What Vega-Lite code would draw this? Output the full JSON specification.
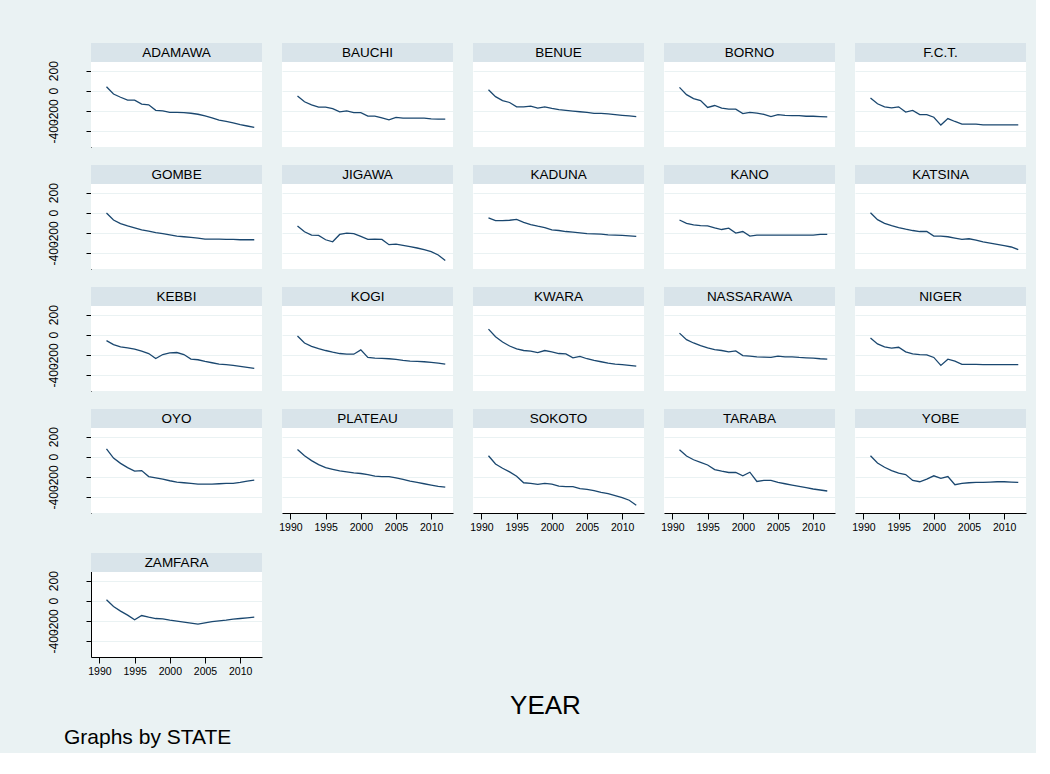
{
  "$schema": "https://vega.github.io/schema/vega-lite/v6.json",
  "background": "#EAF2F3",
  "padding": {"left": 46, "top": 43, "right": 10, "bottom": 5},
  "config": {
    "font": "Liberation Sans",
    "view": {"stroke": null, "fill": "white"},
    "axis": {"domainColor": "black", "tickColor": "black", "labelColor": "black", "labelFont": "Liberation Sans"},
    "axisX": {"grid": false, "tickSize": 6, "labelPadding": 3, "labelFontSize": 10.5, "labelFlush": false},
    "axisY": {"grid": true, "gridColor": "#EAF2F3", "gridWidth": 1, "tickSize": 5, "labelPadding": 26, "labelAngle": 270, "labelAlign": "center", "labelBaseline": "bottom", "labelOverlap": false, "labelFontSize": 12, "labelExpr": "'' + datum.value"}
  },
  "title": {"text": "Graphs by STATE", "orient": "bottom", "anchor": "start", "frame": "bounds", "fontSize": 21, "fontWeight": "normal", "color": "black", "offset": 8, "dx": 17},
  "data": {"values": [
    {"STATE":"ADAMAWA","YEAR":1991,"VAL":39},{"STATE":"ADAMAWA","YEAR":1992,"VAL":-33},{"STATE":"ADAMAWA","YEAR":1993,"VAL":-65},{"STATE":"ADAMAWA","YEAR":1994,"VAL":-94},{"STATE":"ADAMAWA","YEAR":1995,"VAL":-94},{"STATE":"ADAMAWA","YEAR":1996,"VAL":-133},{"STATE":"ADAMAWA","YEAR":1997,"VAL":-140},{"STATE":"ADAMAWA","YEAR":1998,"VAL":-195},{"STATE":"ADAMAWA","YEAR":1999,"VAL":-201},{"STATE":"ADAMAWA","YEAR":2000,"VAL":-215},{"STATE":"ADAMAWA","YEAR":2001,"VAL":-215},{"STATE":"ADAMAWA","YEAR":2002,"VAL":-218},{"STATE":"ADAMAWA","YEAR":2003,"VAL":-224},{"STATE":"ADAMAWA","YEAR":2004,"VAL":-234},{"STATE":"ADAMAWA","YEAR":2005,"VAL":-250},{"STATE":"ADAMAWA","YEAR":2006,"VAL":-270},{"STATE":"ADAMAWA","YEAR":2007,"VAL":-293},{"STATE":"ADAMAWA","YEAR":2008,"VAL":-306},{"STATE":"ADAMAWA","YEAR":2009,"VAL":-319},{"STATE":"ADAMAWA","YEAR":2010,"VAL":-338},{"STATE":"ADAMAWA","YEAR":2011,"VAL":-351},{"STATE":"ADAMAWA","YEAR":2012,"VAL":-364},
    {"STATE":"BAUCHI","YEAR":1991,"VAL":-52},{"STATE":"BAUCHI","YEAR":1992,"VAL":-110},{"STATE":"BAUCHI","YEAR":1993,"VAL":-140},{"STATE":"BAUCHI","YEAR":1994,"VAL":-163},{"STATE":"BAUCHI","YEAR":1995,"VAL":-163},{"STATE":"BAUCHI","YEAR":1996,"VAL":-179},{"STATE":"BAUCHI","YEAR":1997,"VAL":-211},{"STATE":"BAUCHI","YEAR":1998,"VAL":-201},{"STATE":"BAUCHI","YEAR":1999,"VAL":-218},{"STATE":"BAUCHI","YEAR":2000,"VAL":-218},{"STATE":"BAUCHI","YEAR":2001,"VAL":-253},{"STATE":"BAUCHI","YEAR":2002,"VAL":-253},{"STATE":"BAUCHI","YEAR":2003,"VAL":-270},{"STATE":"BAUCHI","YEAR":2004,"VAL":-289},{"STATE":"BAUCHI","YEAR":2005,"VAL":-266},{"STATE":"BAUCHI","YEAR":2006,"VAL":-273},{"STATE":"BAUCHI","YEAR":2007,"VAL":-273},{"STATE":"BAUCHI","YEAR":2008,"VAL":-273},{"STATE":"BAUCHI","YEAR":2009,"VAL":-273},{"STATE":"BAUCHI","YEAR":2010,"VAL":-280},{"STATE":"BAUCHI","YEAR":2011,"VAL":-283},{"STATE":"BAUCHI","YEAR":2012,"VAL":-283},
    {"STATE":"BENUE","YEAR":1991,"VAL":10},{"STATE":"BENUE","YEAR":1992,"VAL":-59},{"STATE":"BENUE","YEAR":1993,"VAL":-98},{"STATE":"BENUE","YEAR":1994,"VAL":-117},{"STATE":"BENUE","YEAR":1995,"VAL":-160},{"STATE":"BENUE","YEAR":1996,"VAL":-160},{"STATE":"BENUE","YEAR":1997,"VAL":-153},{"STATE":"BENUE","YEAR":1998,"VAL":-173},{"STATE":"BENUE","YEAR":1999,"VAL":-160},{"STATE":"BENUE","YEAR":2000,"VAL":-176},{"STATE":"BENUE","YEAR":2001,"VAL":-189},{"STATE":"BENUE","YEAR":2002,"VAL":-196},{"STATE":"BENUE","YEAR":2003,"VAL":-202},{"STATE":"BENUE","YEAR":2004,"VAL":-209},{"STATE":"BENUE","YEAR":2005,"VAL":-215},{"STATE":"BENUE","YEAR":2006,"VAL":-225},{"STATE":"BENUE","YEAR":2007,"VAL":-225},{"STATE":"BENUE","YEAR":2008,"VAL":-231},{"STATE":"BENUE","YEAR":2009,"VAL":-238},{"STATE":"BENUE","YEAR":2010,"VAL":-245},{"STATE":"BENUE","YEAR":2011,"VAL":-251},{"STATE":"BENUE","YEAR":2012,"VAL":-258},
    {"STATE":"BORNO","YEAR":1991,"VAL":33},{"STATE":"BORNO","YEAR":1992,"VAL":-39},{"STATE":"BORNO","YEAR":1993,"VAL":-78},{"STATE":"BORNO","YEAR":1994,"VAL":-98},{"STATE":"BORNO","YEAR":1995,"VAL":-166},{"STATE":"BORNO","YEAR":1996,"VAL":-147},{"STATE":"BORNO","YEAR":1997,"VAL":-173},{"STATE":"BORNO","YEAR":1998,"VAL":-183},{"STATE":"BORNO","YEAR":1999,"VAL":-183},{"STATE":"BORNO","YEAR":2000,"VAL":-228},{"STATE":"BORNO","YEAR":2001,"VAL":-215},{"STATE":"BORNO","YEAR":2002,"VAL":-222},{"STATE":"BORNO","YEAR":2003,"VAL":-235},{"STATE":"BORNO","YEAR":2004,"VAL":-258},{"STATE":"BORNO","YEAR":2005,"VAL":-238},{"STATE":"BORNO","YEAR":2006,"VAL":-245},{"STATE":"BORNO","YEAR":2007,"VAL":-248},{"STATE":"BORNO","YEAR":2008,"VAL":-248},{"STATE":"BORNO","YEAR":2009,"VAL":-254},{"STATE":"BORNO","YEAR":2010,"VAL":-254},{"STATE":"BORNO","YEAR":2011,"VAL":-258},{"STATE":"BORNO","YEAR":2012,"VAL":-261},
    {"STATE":"F.C.T.","YEAR":1991,"VAL":-72},{"STATE":"F.C.T.","YEAR":1992,"VAL":-130},{"STATE":"F.C.T.","YEAR":1993,"VAL":-160},{"STATE":"F.C.T.","YEAR":1994,"VAL":-170},{"STATE":"F.C.T.","YEAR":1995,"VAL":-160},{"STATE":"F.C.T.","YEAR":1996,"VAL":-212},{"STATE":"F.C.T.","YEAR":1997,"VAL":-196},{"STATE":"F.C.T.","YEAR":1998,"VAL":-238},{"STATE":"F.C.T.","YEAR":1999,"VAL":-238},{"STATE":"F.C.T.","YEAR":2000,"VAL":-264},{"STATE":"F.C.T.","YEAR":2001,"VAL":-342},{"STATE":"F.C.T.","YEAR":2002,"VAL":-277},{"STATE":"F.C.T.","YEAR":2003,"VAL":-306},{"STATE":"F.C.T.","YEAR":2004,"VAL":-333},{"STATE":"F.C.T.","YEAR":2005,"VAL":-333},{"STATE":"F.C.T.","YEAR":2006,"VAL":-333},{"STATE":"F.C.T.","YEAR":2007,"VAL":-339},{"STATE":"F.C.T.","YEAR":2008,"VAL":-339},{"STATE":"F.C.T.","YEAR":2009,"VAL":-339},{"STATE":"F.C.T.","YEAR":2010,"VAL":-339},{"STATE":"F.C.T.","YEAR":2011,"VAL":-339},{"STATE":"F.C.T.","YEAR":2012,"VAL":-339},
    {"STATE":"GOMBE","YEAR":1991,"VAL":-3},{"STATE":"GOMBE","YEAR":1992,"VAL":-72},{"STATE":"GOMBE","YEAR":1993,"VAL":-108},{"STATE":"GOMBE","YEAR":1994,"VAL":-131},{"STATE":"GOMBE","YEAR":1995,"VAL":-151},{"STATE":"GOMBE","YEAR":1996,"VAL":-171},{"STATE":"GOMBE","YEAR":1997,"VAL":-184},{"STATE":"GOMBE","YEAR":1998,"VAL":-197},{"STATE":"GOMBE","YEAR":1999,"VAL":-207},{"STATE":"GOMBE","YEAR":2000,"VAL":-220},{"STATE":"GOMBE","YEAR":2001,"VAL":-233},{"STATE":"GOMBE","YEAR":2002,"VAL":-239},{"STATE":"GOMBE","YEAR":2003,"VAL":-246},{"STATE":"GOMBE","YEAR":2004,"VAL":-253},{"STATE":"GOMBE","YEAR":2005,"VAL":-262},{"STATE":"GOMBE","YEAR":2006,"VAL":-262},{"STATE":"GOMBE","YEAR":2007,"VAL":-262},{"STATE":"GOMBE","YEAR":2008,"VAL":-266},{"STATE":"GOMBE","YEAR":2009,"VAL":-266},{"STATE":"GOMBE","YEAR":2010,"VAL":-269},{"STATE":"GOMBE","YEAR":2011,"VAL":-269},{"STATE":"GOMBE","YEAR":2012,"VAL":-269},
    {"STATE":"JIGAWA","YEAR":1991,"VAL":-131},{"STATE":"JIGAWA","YEAR":1992,"VAL":-190},{"STATE":"JIGAWA","YEAR":1993,"VAL":-223},{"STATE":"JIGAWA","YEAR":1994,"VAL":-226},{"STATE":"JIGAWA","YEAR":1995,"VAL":-269},{"STATE":"JIGAWA","YEAR":1996,"VAL":-289},{"STATE":"JIGAWA","YEAR":1997,"VAL":-216},{"STATE":"JIGAWA","YEAR":1998,"VAL":-203},{"STATE":"JIGAWA","YEAR":1999,"VAL":-207},{"STATE":"JIGAWA","YEAR":2000,"VAL":-236},{"STATE":"JIGAWA","YEAR":2001,"VAL":-266},{"STATE":"JIGAWA","YEAR":2002,"VAL":-262},{"STATE":"JIGAWA","YEAR":2003,"VAL":-266},{"STATE":"JIGAWA","YEAR":2004,"VAL":-318},{"STATE":"JIGAWA","YEAR":2005,"VAL":-312},{"STATE":"JIGAWA","YEAR":2006,"VAL":-325},{"STATE":"JIGAWA","YEAR":2007,"VAL":-338},{"STATE":"JIGAWA","YEAR":2008,"VAL":-351},{"STATE":"JIGAWA","YEAR":2009,"VAL":-367},{"STATE":"JIGAWA","YEAR":2010,"VAL":-387},{"STATE":"JIGAWA","YEAR":2011,"VAL":-420},{"STATE":"JIGAWA","YEAR":2012,"VAL":-476},
    {"STATE":"KADUNA","YEAR":1991,"VAL":-52},{"STATE":"KADUNA","YEAR":1992,"VAL":-79},{"STATE":"KADUNA","YEAR":1993,"VAL":-79},{"STATE":"KADUNA","YEAR":1994,"VAL":-75},{"STATE":"KADUNA","YEAR":1995,"VAL":-66},{"STATE":"KADUNA","YEAR":1996,"VAL":-95},{"STATE":"KADUNA","YEAR":1997,"VAL":-118},{"STATE":"KADUNA","YEAR":1998,"VAL":-134},{"STATE":"KADUNA","YEAR":1999,"VAL":-148},{"STATE":"KADUNA","YEAR":2000,"VAL":-171},{"STATE":"KADUNA","YEAR":2001,"VAL":-177},{"STATE":"KADUNA","YEAR":2002,"VAL":-187},{"STATE":"KADUNA","YEAR":2003,"VAL":-194},{"STATE":"KADUNA","YEAR":2004,"VAL":-200},{"STATE":"KADUNA","YEAR":2005,"VAL":-207},{"STATE":"KADUNA","YEAR":2006,"VAL":-210},{"STATE":"KADUNA","YEAR":2007,"VAL":-213},{"STATE":"KADUNA","YEAR":2008,"VAL":-220},{"STATE":"KADUNA","YEAR":2009,"VAL":-223},{"STATE":"KADUNA","YEAR":2010,"VAL":-226},{"STATE":"KADUNA","YEAR":2011,"VAL":-230},{"STATE":"KADUNA","YEAR":2012,"VAL":-236},
    {"STATE":"KANO","YEAR":1991,"VAL":-72},{"STATE":"KANO","YEAR":1992,"VAL":-105},{"STATE":"KANO","YEAR":1993,"VAL":-121},{"STATE":"KANO","YEAR":1994,"VAL":-128},{"STATE":"KANO","YEAR":1995,"VAL":-131},{"STATE":"KANO","YEAR":1996,"VAL":-151},{"STATE":"KANO","YEAR":1997,"VAL":-167},{"STATE":"KANO","YEAR":1998,"VAL":-154},{"STATE":"KANO","YEAR":1999,"VAL":-203},{"STATE":"KANO","YEAR":2000,"VAL":-187},{"STATE":"KANO","YEAR":2001,"VAL":-233},{"STATE":"KANO","YEAR":2002,"VAL":-223},{"STATE":"KANO","YEAR":2003,"VAL":-223},{"STATE":"KANO","YEAR":2004,"VAL":-223},{"STATE":"KANO","YEAR":2005,"VAL":-223},{"STATE":"KANO","YEAR":2006,"VAL":-223},{"STATE":"KANO","YEAR":2007,"VAL":-223},{"STATE":"KANO","YEAR":2008,"VAL":-223},{"STATE":"KANO","YEAR":2009,"VAL":-223},{"STATE":"KANO","YEAR":2010,"VAL":-223},{"STATE":"KANO","YEAR":2011,"VAL":-216},{"STATE":"KANO","YEAR":2012,"VAL":-216},
    {"STATE":"KATSINA","YEAR":1991,"VAL":0},{"STATE":"KATSINA","YEAR":1992,"VAL":-69},{"STATE":"KATSINA","YEAR":1993,"VAL":-105},{"STATE":"KATSINA","YEAR":1994,"VAL":-128},{"STATE":"KATSINA","YEAR":1995,"VAL":-148},{"STATE":"KATSINA","YEAR":1996,"VAL":-164},{"STATE":"KATSINA","YEAR":1997,"VAL":-177},{"STATE":"KATSINA","YEAR":1998,"VAL":-187},{"STATE":"KATSINA","YEAR":1999,"VAL":-187},{"STATE":"KATSINA","YEAR":2000,"VAL":-233},{"STATE":"KATSINA","YEAR":2001,"VAL":-233},{"STATE":"KATSINA","YEAR":2002,"VAL":-239},{"STATE":"KATSINA","YEAR":2003,"VAL":-253},{"STATE":"KATSINA","YEAR":2004,"VAL":-266},{"STATE":"KATSINA","YEAR":2005,"VAL":-259},{"STATE":"KATSINA","YEAR":2006,"VAL":-272},{"STATE":"KATSINA","YEAR":2007,"VAL":-289},{"STATE":"KATSINA","YEAR":2008,"VAL":-302},{"STATE":"KATSINA","YEAR":2009,"VAL":-315},{"STATE":"KATSINA","YEAR":2010,"VAL":-328},{"STATE":"KATSINA","YEAR":2011,"VAL":-341},{"STATE":"KATSINA","YEAR":2012,"VAL":-367},
    {"STATE":"KEBBI","YEAR":1991,"VAL":-59},{"STATE":"KEBBI","YEAR":1992,"VAL":-98},{"STATE":"KEBBI","YEAR":1993,"VAL":-121},{"STATE":"KEBBI","YEAR":1994,"VAL":-131},{"STATE":"KEBBI","YEAR":1995,"VAL":-144},{"STATE":"KEBBI","YEAR":1996,"VAL":-164},{"STATE":"KEBBI","YEAR":1997,"VAL":-187},{"STATE":"KEBBI","YEAR":1998,"VAL":-236},{"STATE":"KEBBI","YEAR":1999,"VAL":-197},{"STATE":"KEBBI","YEAR":2000,"VAL":-180},{"STATE":"KEBBI","YEAR":2001,"VAL":-177},{"STATE":"KEBBI","YEAR":2002,"VAL":-197},{"STATE":"KEBBI","YEAR":2003,"VAL":-243},{"STATE":"KEBBI","YEAR":2004,"VAL":-249},{"STATE":"KEBBI","YEAR":2005,"VAL":-266},{"STATE":"KEBBI","YEAR":2006,"VAL":-279},{"STATE":"KEBBI","YEAR":2007,"VAL":-292},{"STATE":"KEBBI","YEAR":2008,"VAL":-298},{"STATE":"KEBBI","YEAR":2009,"VAL":-305},{"STATE":"KEBBI","YEAR":2010,"VAL":-315},{"STATE":"KEBBI","YEAR":2011,"VAL":-325},{"STATE":"KEBBI","YEAR":2012,"VAL":-335},
    {"STATE":"KOGI","YEAR":1991,"VAL":-13},{"STATE":"KOGI","YEAR":1992,"VAL":-82},{"STATE":"KOGI","YEAR":1993,"VAL":-115},{"STATE":"KOGI","YEAR":1994,"VAL":-138},{"STATE":"KOGI","YEAR":1995,"VAL":-157},{"STATE":"KOGI","YEAR":1996,"VAL":-174},{"STATE":"KOGI","YEAR":1997,"VAL":-187},{"STATE":"KOGI","YEAR":1998,"VAL":-194},{"STATE":"KOGI","YEAR":1999,"VAL":-194},{"STATE":"KOGI","YEAR":2000,"VAL":-151},{"STATE":"KOGI","YEAR":2001,"VAL":-226},{"STATE":"KOGI","YEAR":2002,"VAL":-233},{"STATE":"KOGI","YEAR":2003,"VAL":-236},{"STATE":"KOGI","YEAR":2004,"VAL":-239},{"STATE":"KOGI","YEAR":2005,"VAL":-246},{"STATE":"KOGI","YEAR":2006,"VAL":-256},{"STATE":"KOGI","YEAR":2007,"VAL":-262},{"STATE":"KOGI","YEAR":2008,"VAL":-266},{"STATE":"KOGI","YEAR":2009,"VAL":-269},{"STATE":"KOGI","YEAR":2010,"VAL":-276},{"STATE":"KOGI","YEAR":2011,"VAL":-282},{"STATE":"KOGI","YEAR":2012,"VAL":-292},
    {"STATE":"KWARA","YEAR":1991,"VAL":56},{"STATE":"KWARA","YEAR":1992,"VAL":-20},{"STATE":"KWARA","YEAR":1993,"VAL":-72},{"STATE":"KWARA","YEAR":1994,"VAL":-112},{"STATE":"KWARA","YEAR":1995,"VAL":-141},{"STATE":"KWARA","YEAR":1996,"VAL":-157},{"STATE":"KWARA","YEAR":1997,"VAL":-164},{"STATE":"KWARA","YEAR":1998,"VAL":-177},{"STATE":"KWARA","YEAR":1999,"VAL":-157},{"STATE":"KWARA","YEAR":2000,"VAL":-171},{"STATE":"KWARA","YEAR":2001,"VAL":-187},{"STATE":"KWARA","YEAR":2002,"VAL":-190},{"STATE":"KWARA","YEAR":2003,"VAL":-230},{"STATE":"KWARA","YEAR":2004,"VAL":-216},{"STATE":"KWARA","YEAR":2005,"VAL":-239},{"STATE":"KWARA","YEAR":2006,"VAL":-256},{"STATE":"KWARA","YEAR":2007,"VAL":-269},{"STATE":"KWARA","YEAR":2008,"VAL":-282},{"STATE":"KWARA","YEAR":2009,"VAL":-292},{"STATE":"KWARA","YEAR":2010,"VAL":-298},{"STATE":"KWARA","YEAR":2011,"VAL":-305},{"STATE":"KWARA","YEAR":2012,"VAL":-312},
    {"STATE":"NASSARAWA","YEAR":1991,"VAL":16},{"STATE":"NASSARAWA","YEAR":1992,"VAL":-49},{"STATE":"NASSARAWA","YEAR":1993,"VAL":-82},{"STATE":"NASSARAWA","YEAR":1994,"VAL":-108},{"STATE":"NASSARAWA","YEAR":1995,"VAL":-131},{"STATE":"NASSARAWA","YEAR":1996,"VAL":-148},{"STATE":"NASSARAWA","YEAR":1997,"VAL":-157},{"STATE":"NASSARAWA","YEAR":1998,"VAL":-171},{"STATE":"NASSARAWA","YEAR":1999,"VAL":-161},{"STATE":"NASSARAWA","YEAR":2000,"VAL":-207},{"STATE":"NASSARAWA","YEAR":2001,"VAL":-213},{"STATE":"NASSARAWA","YEAR":2002,"VAL":-220},{"STATE":"NASSARAWA","YEAR":2003,"VAL":-223},{"STATE":"NASSARAWA","YEAR":2004,"VAL":-226},{"STATE":"NASSARAWA","YEAR":2005,"VAL":-213},{"STATE":"NASSARAWA","YEAR":2006,"VAL":-220},{"STATE":"NASSARAWA","YEAR":2007,"VAL":-220},{"STATE":"NASSARAWA","YEAR":2008,"VAL":-226},{"STATE":"NASSARAWA","YEAR":2009,"VAL":-230},{"STATE":"NASSARAWA","YEAR":2010,"VAL":-233},{"STATE":"NASSARAWA","YEAR":2011,"VAL":-239},{"STATE":"NASSARAWA","YEAR":2012,"VAL":-243},
    {"STATE":"NIGER","YEAR":1991,"VAL":-33},{"STATE":"NIGER","YEAR":1992,"VAL":-92},{"STATE":"NIGER","YEAR":1993,"VAL":-121},{"STATE":"NIGER","YEAR":1994,"VAL":-134},{"STATE":"NIGER","YEAR":1995,"VAL":-125},{"STATE":"NIGER","YEAR":1996,"VAL":-171},{"STATE":"NIGER","YEAR":1997,"VAL":-190},{"STATE":"NIGER","YEAR":1998,"VAL":-197},{"STATE":"NIGER","YEAR":1999,"VAL":-200},{"STATE":"NIGER","YEAR":2000,"VAL":-226},{"STATE":"NIGER","YEAR":2001,"VAL":-305},{"STATE":"NIGER","YEAR":2002,"VAL":-243},{"STATE":"NIGER","YEAR":2003,"VAL":-262},{"STATE":"NIGER","YEAR":2004,"VAL":-295},{"STATE":"NIGER","YEAR":2005,"VAL":-295},{"STATE":"NIGER","YEAR":2006,"VAL":-295},{"STATE":"NIGER","YEAR":2007,"VAL":-298},{"STATE":"NIGER","YEAR":2008,"VAL":-298},{"STATE":"NIGER","YEAR":2009,"VAL":-298},{"STATE":"NIGER","YEAR":2010,"VAL":-298},{"STATE":"NIGER","YEAR":2011,"VAL":-298},{"STATE":"NIGER","YEAR":2012,"VAL":-298},
    {"STATE":"OYO","YEAR":1991,"VAL":79},{"STATE":"OYO","YEAR":1992,"VAL":-13},{"STATE":"OYO","YEAR":1993,"VAL":-66},{"STATE":"OYO","YEAR":1994,"VAL":-108},{"STATE":"OYO","YEAR":1995,"VAL":-144},{"STATE":"OYO","YEAR":1996,"VAL":-138},{"STATE":"OYO","YEAR":1997,"VAL":-197},{"STATE":"OYO","YEAR":1998,"VAL":-210},{"STATE":"OYO","YEAR":1999,"VAL":-223},{"STATE":"OYO","YEAR":2000,"VAL":-239},{"STATE":"OYO","YEAR":2001,"VAL":-253},{"STATE":"OYO","YEAR":2002,"VAL":-259},{"STATE":"OYO","YEAR":2003,"VAL":-266},{"STATE":"OYO","YEAR":2004,"VAL":-272},{"STATE":"OYO","YEAR":2005,"VAL":-272},{"STATE":"OYO","YEAR":2006,"VAL":-272},{"STATE":"OYO","YEAR":2007,"VAL":-269},{"STATE":"OYO","YEAR":2008,"VAL":-266},{"STATE":"OYO","YEAR":2009,"VAL":-266},{"STATE":"OYO","YEAR":2010,"VAL":-256},{"STATE":"OYO","YEAR":2011,"VAL":-243},{"STATE":"OYO","YEAR":2012,"VAL":-233},
    {"STATE":"PLATEAU","YEAR":1991,"VAL":72},{"STATE":"PLATEAU","YEAR":1992,"VAL":10},{"STATE":"PLATEAU","YEAR":1993,"VAL":-39},{"STATE":"PLATEAU","YEAR":1994,"VAL":-79},{"STATE":"PLATEAU","YEAR":1995,"VAL":-108},{"STATE":"PLATEAU","YEAR":1996,"VAL":-125},{"STATE":"PLATEAU","YEAR":1997,"VAL":-141},{"STATE":"PLATEAU","YEAR":1998,"VAL":-151},{"STATE":"PLATEAU","YEAR":1999,"VAL":-161},{"STATE":"PLATEAU","YEAR":2000,"VAL":-167},{"STATE":"PLATEAU","YEAR":2001,"VAL":-177},{"STATE":"PLATEAU","YEAR":2002,"VAL":-194},{"STATE":"PLATEAU","YEAR":2003,"VAL":-197},{"STATE":"PLATEAU","YEAR":2004,"VAL":-197},{"STATE":"PLATEAU","YEAR":2005,"VAL":-210},{"STATE":"PLATEAU","YEAR":2006,"VAL":-226},{"STATE":"PLATEAU","YEAR":2007,"VAL":-243},{"STATE":"PLATEAU","YEAR":2008,"VAL":-256},{"STATE":"PLATEAU","YEAR":2009,"VAL":-269},{"STATE":"PLATEAU","YEAR":2010,"VAL":-282},{"STATE":"PLATEAU","YEAR":2011,"VAL":-295},{"STATE":"PLATEAU","YEAR":2012,"VAL":-302},
    {"STATE":"SOKOTO","YEAR":1991,"VAL":10},{"STATE":"SOKOTO","YEAR":1992,"VAL":-72},{"STATE":"SOKOTO","YEAR":1993,"VAL":-115},{"STATE":"SOKOTO","YEAR":1994,"VAL":-151},{"STATE":"SOKOTO","YEAR":1995,"VAL":-194},{"STATE":"SOKOTO","YEAR":1996,"VAL":-259},{"STATE":"SOKOTO","YEAR":1997,"VAL":-266},{"STATE":"SOKOTO","YEAR":1998,"VAL":-276},{"STATE":"SOKOTO","YEAR":1999,"VAL":-266},{"STATE":"SOKOTO","YEAR":2000,"VAL":-272},{"STATE":"SOKOTO","YEAR":2001,"VAL":-292},{"STATE":"SOKOTO","YEAR":2002,"VAL":-298},{"STATE":"SOKOTO","YEAR":2003,"VAL":-298},{"STATE":"SOKOTO","YEAR":2004,"VAL":-318},{"STATE":"SOKOTO","YEAR":2005,"VAL":-325},{"STATE":"SOKOTO","YEAR":2006,"VAL":-338},{"STATE":"SOKOTO","YEAR":2007,"VAL":-354},{"STATE":"SOKOTO","YEAR":2008,"VAL":-367},{"STATE":"SOKOTO","YEAR":2009,"VAL":-387},{"STATE":"SOKOTO","YEAR":2010,"VAL":-407},{"STATE":"SOKOTO","YEAR":2011,"VAL":-433},{"STATE":"SOKOTO","YEAR":2012,"VAL":-482},
    {"STATE":"TARABA","YEAR":1991,"VAL":69},{"STATE":"TARABA","YEAR":1992,"VAL":7},{"STATE":"TARABA","YEAR":1993,"VAL":-30},{"STATE":"TARABA","YEAR":1994,"VAL":-56},{"STATE":"TARABA","YEAR":1995,"VAL":-82},{"STATE":"TARABA","YEAR":1996,"VAL":-128},{"STATE":"TARABA","YEAR":1997,"VAL":-144},{"STATE":"TARABA","YEAR":1998,"VAL":-157},{"STATE":"TARABA","YEAR":1999,"VAL":-157},{"STATE":"TARABA","YEAR":2000,"VAL":-190},{"STATE":"TARABA","YEAR":2001,"VAL":-154},{"STATE":"TARABA","YEAR":2002,"VAL":-246},{"STATE":"TARABA","YEAR":2003,"VAL":-236},{"STATE":"TARABA","YEAR":2004,"VAL":-236},{"STATE":"TARABA","YEAR":2005,"VAL":-256},{"STATE":"TARABA","YEAR":2006,"VAL":-269},{"STATE":"TARABA","YEAR":2007,"VAL":-282},{"STATE":"TARABA","YEAR":2008,"VAL":-295},{"STATE":"TARABA","YEAR":2009,"VAL":-308},{"STATE":"TARABA","YEAR":2010,"VAL":-321},{"STATE":"TARABA","YEAR":2011,"VAL":-331},{"STATE":"TARABA","YEAR":2012,"VAL":-341},
    {"STATE":"YOBE","YEAR":1991,"VAL":10},{"STATE":"YOBE","YEAR":1992,"VAL":-62},{"STATE":"YOBE","YEAR":1993,"VAL":-105},{"STATE":"YOBE","YEAR":1994,"VAL":-138},{"STATE":"YOBE","YEAR":1995,"VAL":-164},{"STATE":"YOBE","YEAR":1996,"VAL":-177},{"STATE":"YOBE","YEAR":1997,"VAL":-236},{"STATE":"YOBE","YEAR":1998,"VAL":-249},{"STATE":"YOBE","YEAR":1999,"VAL":-223},{"STATE":"YOBE","YEAR":2000,"VAL":-190},{"STATE":"YOBE","YEAR":2001,"VAL":-216},{"STATE":"YOBE","YEAR":2002,"VAL":-197},{"STATE":"YOBE","YEAR":2003,"VAL":-279},{"STATE":"YOBE","YEAR":2004,"VAL":-266},{"STATE":"YOBE","YEAR":2005,"VAL":-259},{"STATE":"YOBE","YEAR":2006,"VAL":-256},{"STATE":"YOBE","YEAR":2007,"VAL":-256},{"STATE":"YOBE","YEAR":2008,"VAL":-253},{"STATE":"YOBE","YEAR":2009,"VAL":-249},{"STATE":"YOBE","YEAR":2010,"VAL":-249},{"STATE":"YOBE","YEAR":2011,"VAL":-253},{"STATE":"YOBE","YEAR":2012,"VAL":-256},
    {"STATE":"ZAMFARA","YEAR":1991,"VAL":10},{"STATE":"ZAMFARA","YEAR":1992,"VAL":-57},{"STATE":"ZAMFARA","YEAR":1993,"VAL":-103},{"STATE":"ZAMFARA","YEAR":1994,"VAL":-143},{"STATE":"ZAMFARA","YEAR":1995,"VAL":-190},{"STATE":"ZAMFARA","YEAR":1996,"VAL":-147},{"STATE":"ZAMFARA","YEAR":1997,"VAL":-163},{"STATE":"ZAMFARA","YEAR":1998,"VAL":-177},{"STATE":"ZAMFARA","YEAR":1999,"VAL":-180},{"STATE":"ZAMFARA","YEAR":2000,"VAL":-193},{"STATE":"ZAMFARA","YEAR":2001,"VAL":-203},{"STATE":"ZAMFARA","YEAR":2002,"VAL":-213},{"STATE":"ZAMFARA","YEAR":2003,"VAL":-223},{"STATE":"ZAMFARA","YEAR":2004,"VAL":-233},{"STATE":"ZAMFARA","YEAR":2005,"VAL":-220},{"STATE":"ZAMFARA","YEAR":2006,"VAL":-207},{"STATE":"ZAMFARA","YEAR":2007,"VAL":-200},{"STATE":"ZAMFARA","YEAR":2008,"VAL":-193},{"STATE":"ZAMFARA","YEAR":2009,"VAL":-183},{"STATE":"ZAMFARA","YEAR":2010,"VAL":-177},{"STATE":"ZAMFARA","YEAR":2011,"VAL":-170},{"STATE":"ZAMFARA","YEAR":2012,"VAL":-163}
  ]},
  "vconcat": [
    {
      "title": {"text": "YEAR", "orient": "bottom", "anchor": "middle", "frame": "bounds", "fontSize": 26, "fontWeight": "normal", "color": "black", "offset": 16, "dx": 9},
      "spacing": 16,
      "hconcat": [
        {
          "spacing": 40,
          "vconcat": [
            {
              "transform": [{"filter": {"field": "STATE", "oneOf": ["ADAMAWA", "GOMBE", "KEBBI", "OYO"]}}],
              "facet": {"row": {"field": "STATE", "type": "nominal", "header": {"labels": false, "title": null}}},
              "spacing": 18,
              "spec": {
                "width": 171, "height": 104,
                "layer": [
                  {"mark": {"type": "line", "color": "#1A476F", "strokeWidth": 1.3},
                   "encoding": {
                     "x": {"field": "YEAR", "type": "quantitative", "scale": {"domain": [1988.8, 2013.1], "nice": false, "zero": false}, "axis": null},
                     "y": {"field": "VAL", "type": "quantitative", "scale": {"domain": [-560, 475], "nice": false, "zero": false}, "axis": {"title": null, "values": [-400, -200, 0, 200]}}}},
                  {"transform": [{"aggregate": [{"op": "count", "as": "n"}], "groupby": ["STATE"]}],
                   "mark": {"type": "rect", "color": "#D9E4EA"},
                   "encoding": {
                     "x": {"datum": 1988.8, "type": "quantitative", "axis": null}, "x2": {"datum": 2013.1},
                     "y": {"datum": 286, "type": "quantitative", "axis": {"title": null, "values": [-400, -200, 0, 200]}}, "y2": {"datum": 475}}},
                  {"transform": [{"aggregate": [{"op": "count", "as": "n"}], "groupby": ["STATE"]}],
                   "mark": {"type": "text", "fontSize": 13.5, "color": "black", "baseline": "middle", "align": "center"},
                   "encoding": {
                     "x": {"datum": 2000.95, "type": "quantitative", "axis": null},
                     "y": {"datum": 380, "type": "quantitative", "axis": {"title": null, "values": [-400, -200, 0, 200]}},
                     "text": {"field": "STATE"}}}
                ]
              }
            },
            {
              "transform": [{"filter": {"field": "STATE", "equal": "ZAMFARA"}}],
              "width": 171, "height": 104,
              "layer": [
                {"mark": {"type": "line", "color": "#1A476F", "strokeWidth": 1.3},
                 "encoding": {
                   "x": {"field": "YEAR", "type": "quantitative", "scale": {"domain": [1988.8, 2013.1], "nice": false, "zero": false}, "axis": {"title": null, "values": [1990, 1995, 2000, 2005, 2010], "format": "d"}},
                   "y": {"field": "VAL", "type": "quantitative", "scale": {"domain": [-560, 475], "nice": false, "zero": false}, "axis": {"title": null, "values": [-400, -200, 0, 200]}}}},
                {"transform": [{"aggregate": [{"op": "count", "as": "n"}], "groupby": ["STATE"]}],
                 "mark": {"type": "rect", "color": "#D9E4EA"},
                 "encoding": {
                   "x": {"datum": 1988.8, "type": "quantitative", "axis": {"title": null, "values": [1990, 1995, 2000, 2005, 2010], "format": "d"}}, "x2": {"datum": 2013.1},
                   "y": {"datum": 286, "type": "quantitative", "axis": {"title": null, "values": [-400, -200, 0, 200]}}, "y2": {"datum": 475}}},
                {"transform": [{"aggregate": [{"op": "count", "as": "n"}], "groupby": ["STATE"]}],
                 "mark": {"type": "text", "fontSize": 13.5, "color": "black", "baseline": "middle", "align": "center"},
                 "encoding": {
                   "x": {"datum": 2000.95, "type": "quantitative", "axis": {"title": null, "values": [1990, 1995, 2000, 2005, 2010], "format": "d"}},
                   "y": {"datum": 380, "type": "quantitative", "axis": {"title": null, "values": [-400, -200, 0, 200]}},
                   "text": {"field": "STATE"}}}
              ]
            }
          ]
        },
        {
          "transform": [{"filter": {"field": "STATE", "oneOf": ["BAUCHI", "JIGAWA", "KOGI", "PLATEAU"]}}],
          "facet": {"row": {"field": "STATE", "type": "nominal", "header": {"labels": false, "title": null}}},
          "spacing": 18,
          "spec": {
            "width": 171, "height": 104,
            "layer": [
              {"mark": {"type": "line", "color": "#1A476F", "strokeWidth": 1.3},
               "encoding": {
                 "x": {"field": "YEAR", "type": "quantitative", "scale": {"domain": [1988.8, 2013.1], "nice": false, "zero": false}, "axis": {"title": null, "values": [1990, 1995, 2000, 2005, 2010], "format": "d"}},
                 "y": {"field": "VAL", "type": "quantitative", "scale": {"domain": [-560, 475], "nice": false, "zero": false}, "axis": {"title": null, "values": [-400, -200, 0, 200], "labels": false, "ticks": false, "domain": false}}}},
              {"transform": [{"aggregate": [{"op": "count", "as": "n"}], "groupby": ["STATE"]}],
               "mark": {"type": "rect", "color": "#D9E4EA"},
               "encoding": {
                 "x": {"datum": 1988.8, "type": "quantitative", "axis": {"title": null, "values": [1990, 1995, 2000, 2005, 2010], "format": "d"}}, "x2": {"datum": 2013.1},
                 "y": {"datum": 286, "type": "quantitative", "axis": {"title": null, "values": [-400, -200, 0, 200], "labels": false, "ticks": false, "domain": false}}, "y2": {"datum": 475}}},
              {"transform": [{"aggregate": [{"op": "count", "as": "n"}], "groupby": ["STATE"]}],
               "mark": {"type": "text", "fontSize": 13.5, "color": "black", "baseline": "middle", "align": "center"},
               "encoding": {
                 "x": {"datum": 2000.95, "type": "quantitative", "axis": {"title": null, "values": [1990, 1995, 2000, 2005, 2010], "format": "d"}},
                 "y": {"datum": 380, "type": "quantitative", "axis": {"title": null, "values": [-400, -200, 0, 200], "labels": false, "ticks": false, "domain": false}},
                 "text": {"field": "STATE"}}}
            ]
          }
        },
        {
          "transform": [{"filter": {"field": "STATE", "oneOf": ["BENUE", "KADUNA", "KWARA", "SOKOTO"]}}],
          "facet": {"row": {"field": "STATE", "type": "nominal", "header": {"labels": false, "title": null}}},
          "spacing": 18,
          "spec": {
            "width": 171, "height": 104,
            "layer": [
              {"mark": {"type": "line", "color": "#1A476F", "strokeWidth": 1.3},
               "encoding": {
                 "x": {"field": "YEAR", "type": "quantitative", "scale": {"domain": [1988.8, 2013.1], "nice": false, "zero": false}, "axis": {"title": null, "values": [1990, 1995, 2000, 2005, 2010], "format": "d"}},
                 "y": {"field": "VAL", "type": "quantitative", "scale": {"domain": [-560, 475], "nice": false, "zero": false}, "axis": {"title": null, "values": [-400, -200, 0, 200], "labels": false, "ticks": false, "domain": false}}}},
              {"transform": [{"aggregate": [{"op": "count", "as": "n"}], "groupby": ["STATE"]}],
               "mark": {"type": "rect", "color": "#D9E4EA"},
               "encoding": {
                 "x": {"datum": 1988.8, "type": "quantitative", "axis": {"title": null, "values": [1990, 1995, 2000, 2005, 2010], "format": "d"}}, "x2": {"datum": 2013.1},
                 "y": {"datum": 286, "type": "quantitative", "axis": {"title": null, "values": [-400, -200, 0, 200], "labels": false, "ticks": false, "domain": false}}, "y2": {"datum": 475}}},
              {"transform": [{"aggregate": [{"op": "count", "as": "n"}], "groupby": ["STATE"]}],
               "mark": {"type": "text", "fontSize": 13.5, "color": "black", "baseline": "middle", "align": "center"},
               "encoding": {
                 "x": {"datum": 2000.95, "type": "quantitative", "axis": {"title": null, "values": [1990, 1995, 2000, 2005, 2010], "format": "d"}},
                 "y": {"datum": 380, "type": "quantitative", "axis": {"title": null, "values": [-400, -200, 0, 200], "labels": false, "ticks": false, "domain": false}},
                 "text": {"field": "STATE"}}}
            ]
          }
        },
        {
          "transform": [{"filter": {"field": "STATE", "oneOf": ["BORNO", "KANO", "NASSARAWA", "TARABA"]}}],
          "facet": {"row": {"field": "STATE", "type": "nominal", "header": {"labels": false, "title": null}}},
          "spacing": 18,
          "spec": {
            "width": 171, "height": 104,
            "layer": [
              {"mark": {"type": "line", "color": "#1A476F", "strokeWidth": 1.3},
               "encoding": {
                 "x": {"field": "YEAR", "type": "quantitative", "scale": {"domain": [1988.8, 2013.1], "nice": false, "zero": false}, "axis": {"title": null, "values": [1990, 1995, 2000, 2005, 2010], "format": "d"}},
                 "y": {"field": "VAL", "type": "quantitative", "scale": {"domain": [-560, 475], "nice": false, "zero": false}, "axis": {"title": null, "values": [-400, -200, 0, 200], "labels": false, "ticks": false, "domain": false}}}},
              {"transform": [{"aggregate": [{"op": "count", "as": "n"}], "groupby": ["STATE"]}],
               "mark": {"type": "rect", "color": "#D9E4EA"},
               "encoding": {
                 "x": {"datum": 1988.8, "type": "quantitative", "axis": {"title": null, "values": [1990, 1995, 2000, 2005, 2010], "format": "d"}}, "x2": {"datum": 2013.1},
                 "y": {"datum": 286, "type": "quantitative", "axis": {"title": null, "values": [-400, -200, 0, 200], "labels": false, "ticks": false, "domain": false}}, "y2": {"datum": 475}}},
              {"transform": [{"aggregate": [{"op": "count", "as": "n"}], "groupby": ["STATE"]}],
               "mark": {"type": "text", "fontSize": 13.5, "color": "black", "baseline": "middle", "align": "center"},
               "encoding": {
                 "x": {"datum": 2000.95, "type": "quantitative", "axis": {"title": null, "values": [1990, 1995, 2000, 2005, 2010], "format": "d"}},
                 "y": {"datum": 380, "type": "quantitative", "axis": {"title": null, "values": [-400, -200, 0, 200], "labels": false, "ticks": false, "domain": false}},
                 "text": {"field": "STATE"}}}
            ]
          }
        },
        {
          "transform": [{"filter": {"field": "STATE", "oneOf": ["F.C.T.", "KATSINA", "NIGER", "YOBE"]}}],
          "facet": {"row": {"field": "STATE", "type": "nominal", "header": {"labels": false, "title": null}}},
          "spacing": 18,
          "spec": {
            "width": 171, "height": 104,
            "layer": [
              {"mark": {"type": "line", "color": "#1A476F", "strokeWidth": 1.3},
               "encoding": {
                 "x": {"field": "YEAR", "type": "quantitative", "scale": {"domain": [1988.8, 2013.1], "nice": false, "zero": false}, "axis": {"title": null, "values": [1990, 1995, 2000, 2005, 2010], "format": "d"}},
                 "y": {"field": "VAL", "type": "quantitative", "scale": {"domain": [-560, 475], "nice": false, "zero": false}, "axis": {"title": null, "values": [-400, -200, 0, 200], "labels": false, "ticks": false, "domain": false}}}},
              {"transform": [{"aggregate": [{"op": "count", "as": "n"}], "groupby": ["STATE"]}],
               "mark": {"type": "rect", "color": "#D9E4EA"},
               "encoding": {
                 "x": {"datum": 1988.8, "type": "quantitative", "axis": {"title": null, "values": [1990, 1995, 2000, 2005, 2010], "format": "d"}}, "x2": {"datum": 2013.1},
                 "y": {"datum": 286, "type": "quantitative", "axis": {"title": null, "values": [-400, -200, 0, 200], "labels": false, "ticks": false, "domain": false}}, "y2": {"datum": 475}}},
              {"transform": [{"aggregate": [{"op": "count", "as": "n"}], "groupby": ["STATE"]}],
               "mark": {"type": "text", "fontSize": 13.5, "color": "black", "baseline": "middle", "align": "center"},
               "encoding": {
                 "x": {"datum": 2000.95, "type": "quantitative", "axis": {"title": null, "values": [1990, 1995, 2000, 2005, 2010], "format": "d"}},
                 "y": {"datum": 380, "type": "quantitative", "axis": {"title": null, "values": [-400, -200, 0, 200], "labels": false, "ticks": false, "domain": false}},
                 "text": {"field": "STATE"}}}
            ]
          }
        }
      ]
    }
  ]
}
